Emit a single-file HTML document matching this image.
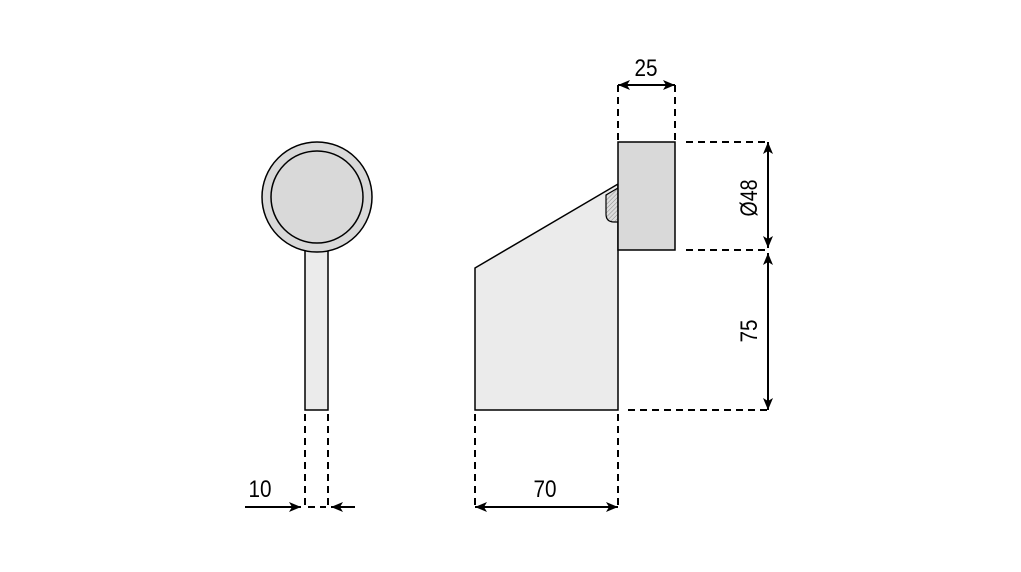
<!DOCTYPE html>
<html><head><style>html,body{margin:0;padding:0;background:#fff}</style></head>
<body>
<svg width="1021" height="567" viewBox="0 0 1021 567" xmlns="http://www.w3.org/2000/svg">
<defs>
<marker id="a" viewBox="0 0 12 10" refX="12" refY="5" markerWidth="12" markerHeight="10" markerUnits="userSpaceOnUse" orient="auto-start-reverse"><path d="M0,0 L12,5 L0,10 L3,5 Z" fill="#000"/></marker>
<pattern id="h" width="3" height="3" patternUnits="userSpaceOnUse" patternTransform="rotate(45)"><rect width="3" height="3" fill="#ddd"/><line x1="0" y1="0" x2="0" y2="3" stroke="#888" stroke-width="1"/></pattern>
</defs>
<g stroke="#000" stroke-width="1.5">
<rect x="305" y="250" width="23" height="160" fill="#ebebeb"/>
<circle cx="317" cy="197" r="55" fill="#d9d9d9"/>
<circle cx="317" cy="197" r="46" fill="#d9d9d9"/>
<polygon points="475,268 618,184 618,410 475,410" fill="#ebebeb"/>
<path d="M618,188 L606,195 L606,214 Q606,222 614,222 L618,222 Z" fill="url(#h)" stroke-width="1.2"/>
<rect x="618" y="142" width="57" height="108" fill="#d9d9d9"/>
</g>
<g stroke="#000" stroke-width="2" stroke-dasharray="7,5" fill="none">
<line x1="305" y1="414" x2="305" y2="507"/>
<line x1="328" y1="414" x2="328" y2="507"/>
<line x1="308" y1="507" x2="326" y2="507"/>
<line x1="475" y1="414" x2="475" y2="507"/>
<line x1="618" y1="414" x2="618" y2="507"/>
<line x1="618" y1="85" x2="618" y2="140"/>
<line x1="675" y1="85" x2="675" y2="140"/>
<line x1="686" y1="142" x2="768" y2="142"/>
<line x1="686" y1="250" x2="768" y2="250"/>
<line x1="628" y1="410" x2="768" y2="410"/>
</g>
<g stroke="#000" stroke-width="2" fill="none">
<line x1="245" y1="507" x2="301" y2="507" marker-end="url(#a)"/>
<line x1="355" y1="507" x2="331" y2="507" marker-end="url(#a)"/>
<line x1="475" y1="507" x2="618" y2="507" marker-start="url(#a)" marker-end="url(#a)"/>
<line x1="618" y1="85" x2="675" y2="85" marker-start="url(#a)" marker-end="url(#a)"/>
<line x1="768" y1="142" x2="768" y2="248" marker-start="url(#a)" marker-end="url(#a)"/>
<line x1="768" y1="253" x2="768" y2="410" marker-start="url(#a)" marker-end="url(#a)"/>
</g>
<g font-family="Liberation Sans, sans-serif" font-size="24" fill="#000" text-anchor="middle">
<text x="260" y="497" textLength="23" lengthAdjust="spacingAndGlyphs">10</text>
<text x="545" y="497" textLength="23" lengthAdjust="spacingAndGlyphs">70</text>
<text x="646" y="76" textLength="23" lengthAdjust="spacingAndGlyphs">25</text>
<text transform="translate(757,198) rotate(-90)" textLength="37" lengthAdjust="spacingAndGlyphs">Ø48</text>
<text transform="translate(757,331) rotate(-90)" textLength="23" lengthAdjust="spacingAndGlyphs">75</text>
</g>
</svg>
</body></html>
